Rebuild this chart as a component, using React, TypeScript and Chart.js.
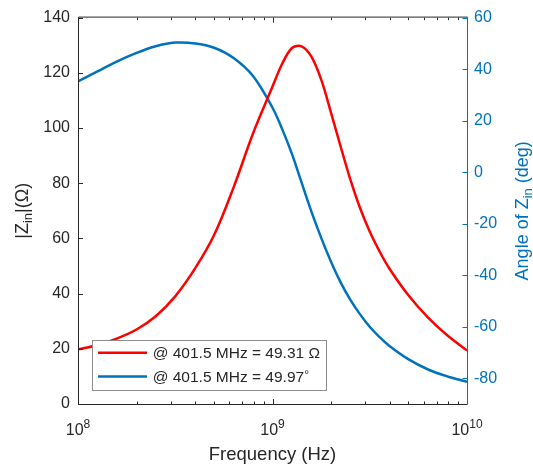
import { useEffect, useRef } from 'react';
import { Chart, registerables } from 'chart.js';

Chart.register(...registerables);

const FONT = '"Liberation Sans", Arial, Helvetica, sans-serif';
const DARK = '#262626';
const RED = '#FF0000';
const BLUE = '#0072BD';

// Frequency (Hz)
const frequencies = [
  1.0e8, 1.26e8, 1.58e8, 2.0e8, 2.51e8, 3.16e8, 4.015e8, 5.01e8, 6.31e8, 7.94e8,
  1.0e9, 1.12e9, 1.26e9, 1.41e9, 1.58e9, 1.78e9, 2.0e9, 2.24e9, 2.51e9, 2.82e9,
  3.16e9, 3.55e9, 3.98e9, 5.01e9, 6.31e9, 7.94e9, 1.0e10,
];
// |Zin| (Ohm)
const impedance = [
  19.8, 21.4, 23.7, 27.0, 31.8, 39.0, 49.31, 61.2, 78.5, 98,
  115, 123.2, 129, 129.6, 126, 117.5, 105.5, 93.3, 81.5, 71,
  62.5, 55.3, 49.2, 39.3, 31.3, 24.8, 19.4,
];
// Angle of Zin (deg)
const angle = [
  35.2, 39.1, 42.9, 46.3, 48.9, 50.3, 49.97, 48.3, 44.3, 37.3,
  25, 16.8, 7, -4, -15, -25.5, -34.8, -42.8, -49.5, -55.2,
  -60, -64, -67.4, -72.7, -76.6, -79.3, -81.4,
];

const impedanceTicks = [0, 20, 40, 60, 80, 100, 120, 140];
const angleTicks = [-80, -60, -40, -20, 0, 20, 40, 60];
const freqMajorTicks = [1e8, 1e9, 1e10];
const freqTickExponents = ['8', '9', '10'];

const legendLabels = ['@ 401.5 MHz = 49.31 ', '@ 401.5 MHz = 49.97'];
const LEGEND_SIZE = 15.5;

type Seg = { t: string; size: number; dy: number };

function drawRich(ctx: CanvasRenderingContext2D, segs: Seg[], x: number, y: number, align: 'center' | 'left') {
  const widths = segs.map((s) => {
    ctx.font = `${s.size}px ${FONT}`;
    return ctx.measureText(s.t).width;
  });
  const total = widths.reduce((a, b) => a + b, 0);
  let cx = align === 'center' ? x - total / 2 : x;
  ctx.textAlign = 'left';
  ctx.textBaseline = 'alphabetic';
  segs.forEach((s, i) => {
    ctx.font = `${s.size}px ${FONT}`;
    ctx.fillText(s.t, cx, y + s.dy);
    cx += widths[i];
  });
  return total;
}

const framePlugin = {
  id: 'matlabFrame',
  afterDatasetsDraw(chart: any) {
    const ctx: CanvasRenderingContext2D = chart.ctx;
    const { left, right, top, bottom } = chart.chartArea;
    const xs = chart.scales.x;
    const ys = chart.scales.y;
    const y1 = chart.scales.y1;
    ctx.save();

    // legend box
    const lx = 92.5;
    const ly = 340.5;
    const lh = 50;
    ctx.font = `${LEGEND_SIZE}px ${FONT}`;
    const w1 = ctx.measureText(legendLabels[0] + 'Ω').width;
    const w2 = ctx.measureText(legendLabels[1] + '°').width;
    const lw = Math.round(152.7 - lx + Math.max(w1, w2) + 6);
    ctx.fillStyle = '#FFFFFF';
    ctx.fillRect(lx, ly, lw, lh);
    ctx.strokeStyle = '#8C8C8C';
    ctx.lineWidth = 1;
    ctx.strokeRect(lx, ly, lw, lh);
    const rows = [352.7, 376.5];
    chart.data.datasets.forEach((ds: any, i: number) => {
      ctx.strokeStyle = ds.borderColor;
      ctx.lineWidth = 2.5;
      ctx.beginPath();
      ctx.moveTo(98, rows[i]);
      ctx.lineTo(147, rows[i]);
      ctx.stroke();
      ctx.fillStyle = DARK;
      const segs: Seg[] =
        i === 0
          ? [{ t: legendLabels[0], size: LEGEND_SIZE, dy: 0 }, { t: 'Ω', size: LEGEND_SIZE, dy: 0 }]
          : [{ t: legendLabels[1], size: LEGEND_SIZE, dy: 0 }, { t: '°', size: 12, dy: -3 }];
      drawRich(ctx, segs, 152.7, rows[i] + 5.5, 'left');
    });

    // frame
    ctx.lineWidth = 1;
    ctx.strokeStyle = DARK;
    ctx.beginPath();
    ctx.moveTo(left + 0.5, bottom + 0.5);
    ctx.lineTo(left + 0.5, top - 0.5);
    ctx.lineTo(right + 0.5, top - 0.5);
    ctx.moveTo(left + 0.5, bottom + 0.5);
    ctx.lineTo(right + 0.5, bottom + 0.5);
    ctx.stroke();

    // left ticks
    ctx.beginPath();
    ys.ticks.forEach((t: any) => {
      const py = Math.round(ys.getPixelForValue(t.value)) + 0.5;
      ctx.moveTo(left, py);
      ctx.lineTo(left + 5, py);
    });
    // x ticks top and bottom
    for (let e = 8; e < 10; e++) {
      for (let m = 1; m < 10; m++) {
        const v = m * Math.pow(10, e);
        const px = Math.round(xs.getPixelForValue(v)) + 0.5;
        const len = m === 1 ? 5 : 2.5;
        ctx.moveTo(px, bottom);
        ctx.lineTo(px, bottom - len);
        ctx.moveTo(px, top);
        ctx.lineTo(px, top + len);
      }
    }
    ctx.stroke();

    // right axis
    ctx.strokeStyle = BLUE;
    ctx.beginPath();
    ctx.moveTo(right + 0.5, top - 0.5);
    ctx.lineTo(right + 0.5, bottom + 0.5);
    y1.ticks.forEach((t: any) => {
      const py = Math.round(y1.getPixelForValue(t.value)) + 0.5;
      ctx.moveTo(right, py);
      ctx.lineTo(right - 4.5, py);
    });
    ctx.stroke();

    // x tick labels
    ctx.fillStyle = DARK;
    freqMajorTicks.forEach((v, i) => {
      const px = xs.getPixelForValue(v);
      drawRich(ctx, [{ t: '10', size: 16, dy: 0 }, { t: freqTickExponents[i], size: 12, dy: -7 }], px, 435, 'center');
    });

    // x title
    drawRich(ctx, [{ t: 'Frequency (Hz)', size: 18.5, dy: 0 }], (left + right) / 2, 459.5, 'center');

    // left title
    const cy = (top + bottom) / 2;
    ctx.save();
    ctx.translate(28, cy);
    ctx.rotate(-Math.PI / 2);
    ctx.fillStyle = DARK;
    drawRich(ctx, [
      { t: '|Z', size: 18, dy: 0 },
      { t: 'in', size: 13, dy: 4 },
      { t: '|(Ω)', size: 18, dy: 0 },
    ], 0, 0, 'center');
    ctx.restore();

    // right title
    ctx.save();
    ctx.translate(528, cy);
    ctx.rotate(-Math.PI / 2);
    ctx.fillStyle = BLUE;
    drawRich(ctx, [
      { t: 'Angle of Z', size: 18, dy: 0 },
      { t: 'in', size: 13, dy: 4 },
      { t: ' (deg)', size: 18, dy: 0 },
    ], 0, 0, 'center');
    ctx.restore();

    ctx.restore();
  },
};

export default function App() {
  const ref = useRef<HTMLCanvasElement | null>(null);
  useEffect(() => {
    if (!ref.current) return;
    const chart = new Chart(ref.current, {
      type: 'line',
      data: {
        datasets: [
          {
            label: '|Zin|',
            data: frequencies.map((f, i) => ({ x: f, y: impedance[i] })),
            yAxisID: 'y',
            borderColor: RED,
            backgroundColor: RED,
          },
          {
            label: 'Angle',
            data: frequencies.map((f, i) => ({ x: f, y: angle[i] })),
            yAxisID: 'y1',
            borderColor: BLUE,
            backgroundColor: BLUE,
          },
        ],
      },
      options: {
        animation: false,
        responsive: false,
        maintainAspectRatio: false,
        layout: { padding: { top: 15, left: 0, right: 0, bottom: 0 } },
        plugins: { legend: { display: false }, tooltip: { enabled: false } },
        elements: {
          point: { radius: 0 },
          line: { borderWidth: 2.5, tension: 0.35 },
        },
        scales: {
          x: {
            type: 'logarithmic',
            min: 1e8,
            max: 1e10,
            ticks: { display: false },
            grid: { display: false, drawTicks: false },
            border: { display: false },
            afterFit: (s: any) => {
              s.height = 62;
            },
          },
          y: {
            position: 'left',
            min: 0,
            max: 140,
            afterBuildTicks: (axis: any) => {
              axis.ticks = impedanceTicks.map((v) => ({ value: v }));
            },
            ticks: { font: { family: FONT, size: 16 }, color: DARK, padding: 8 },
            grid: { display: false, drawTicks: false },
            border: { display: false },
            afterFit: (s: any) => {
              s.width = 78;
            },
          },
          y1: {
            position: 'right',
            min: -90,
            max: 60,
            afterBuildTicks: (axis: any) => {
              axis.ticks = angleTicks.map((v) => ({ value: v }));
            },
            ticks: { font: { family: FONT, size: 16 }, color: BLUE, padding: 7 },
            grid: { display: false, drawTicks: false },
            border: { display: false },
            afterFit: (s: any) => {
              s.width = 66;
            },
          },
        },
      } as any,
      plugins: [framePlugin],
    });
    return () => chart.destroy();
  }, []);
  return (
    <div style={{ position: 'fixed', left: 0, top: 0, width: 533, height: 466, background: '#fff' }}>
      <canvas ref={ref} width={533} height={466} style={{ width: 533, height: 466, display: 'block' }} />
    </div>
  );
}
